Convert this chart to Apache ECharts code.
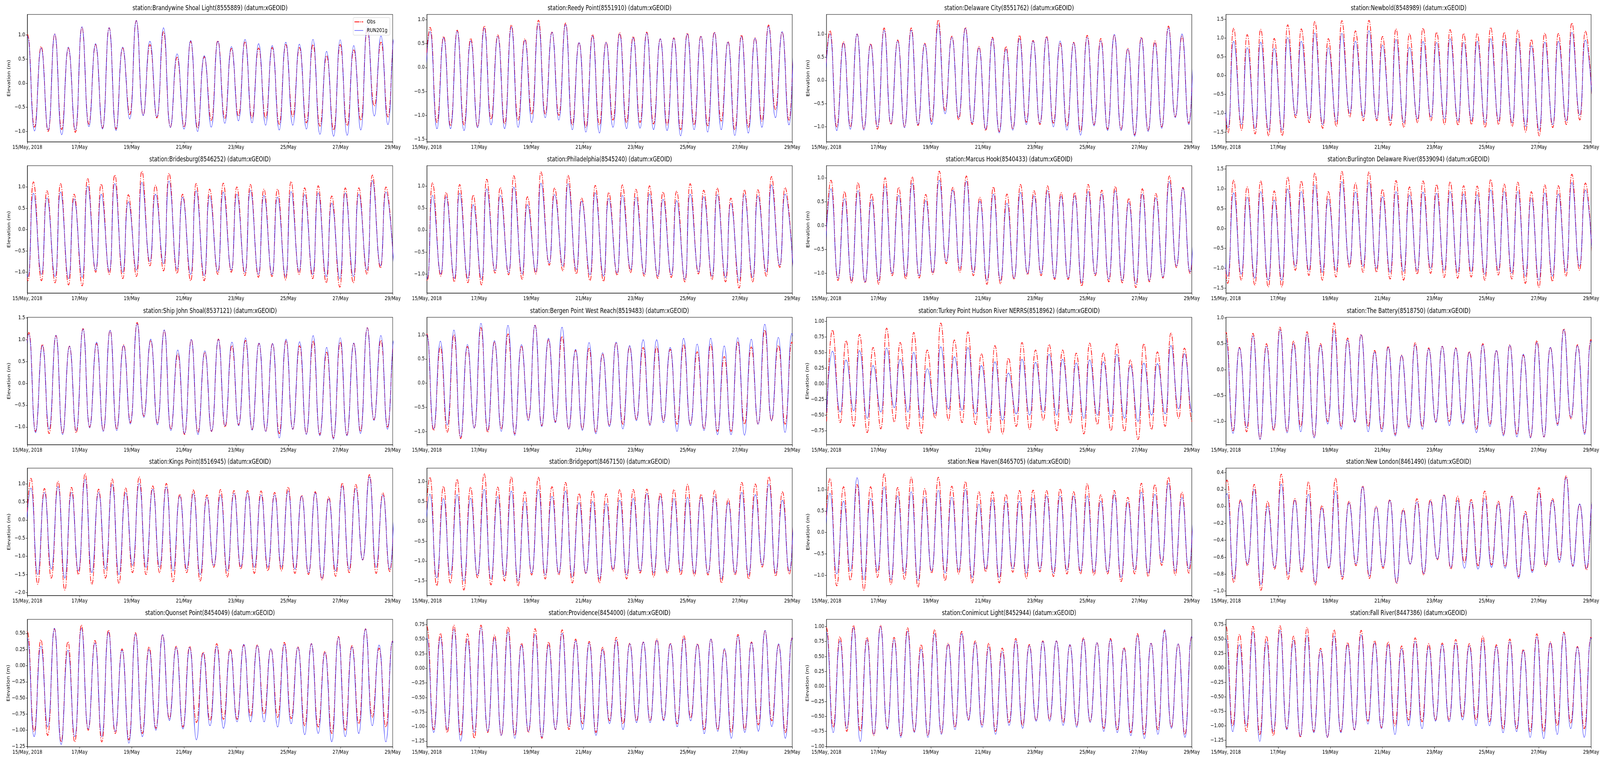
<!DOCTYPE html>
<html><head><meta charset="utf-8">
<script src="https://cdn.jsdelivr.net/npm/echarts@6/dist/echarts.min.js"></script>
<style>html,body{margin:0;padding:0;background:#fff;overflow:hidden}#c{position:absolute;left:0;top:0;width:5150px;height:1950px;transform-origin:0 0}</style>
</head><body><div id="c"></div>
<script>
const stations = [
 'station:Brandywine Shoal Light(8555889) (datum:xGEOID)','station:Reedy Point(8551910) (datum:xGEOID)',
 'station:Delaware City(8551762) (datum:xGEOID)','station:Newbold(8548989) (datum:xGEOID)',
 'station:Bridesburg(8546252) (datum:xGEOID)','station:Philadelphia(8545240) (datum:xGEOID)',
 'station:Marcus Hook(8540433) (datum:xGEOID)','station:Burlington Delaware River(8539094) (datum:xGEOID)',
 'station:Ship John Shoal(8537121) (datum:xGEOID)','station:Bergen Point West Reach(8519483) (datum:xGEOID)',
 'station:Turkey Point Hudson River NERRS(8518962) (datum:xGEOID)','station:The Battery(8518750) (datum:xGEOID)',
 'station:Kings Point(8516945) (datum:xGEOID)','station:Bridgeport(8467150) (datum:xGEOID)',
 'station:New Haven(8465705) (datum:xGEOID)','station:New London(8461490) (datum:xGEOID)',
 'station:Quonset Point(8454049) (datum:xGEOID)','station:Providence(8454000) (datum:xGEOID)',
 'station:Conimicut Light(8452944) (datum:xGEOID)','station:Fall River(8447386) (datum:xGEOID)'];
const seriesNames = ['Obs','RUN201g'];
// x axis: hours since 15/May/2018 00:00
const dayTickHours = [0,48,96,144,192,240,288,336];
const dayTickLabels = ['15/May, 2018','17/May','19/May','21/May','23/May','25/May','27/May','29/May'];
const yMin = [-1.216,-1.555,-1.323,-1.76,-1.49,-1.437,-1.415,-1.625,-1.404,-1.276,-0.973,-1.449,-2.08,-1.867,-1.476,-1.052,-1.256,-1.345,-1.007,-1.363];
const yMax = [1.427,1.11,1.42,1.625,1.50,1.47,1.254,1.585,1.509,1.365,1.0625,1.01,1.43,1.338,1.503,0.451,0.717,0.839,1.12,0.84];
const yTicks = [
 [-1,-0.5,0,0.5,1],[-1.5,-1,-0.5,0,0.5,1],[-1,-0.5,0,0.5,1],[-1.5,-1,-0.5,0,0.5,1,1.5],
 [-1,-0.5,0,0.5,1],[-1,-0.5,0,0.5,1],[-1,-0.5,0,0.5,1],[-1.5,-1,-0.5,0,0.5,1,1.5],
 [-1,-0.5,0,0.5,1,1.5],[-1,-0.5,0,0.5,1],[-0.75,-0.5,-0.25,0,0.25,0.5,0.75,1],[-1,-0.5,0,0.5,1],
 [-2,-1.5,-1,-0.5,0,0.5,1],[-1.5,-1,-0.5,0,0.5,1],[-1,-0.5,0,0.5,1],[-1,-0.8,-0.6,-0.4,-0.2,0,0.2,0.4],
 [-1.25,-1,-0.75,-0.5,-0.25,0,0.25,0.5],[-1.25,-1,-0.75,-0.5,-0.25,0,0.25,0.5,0.75],[-1,-0.75,-0.5,-0.25,0,0.25,0.5,0.75,1],[-1.25,-1,-0.75,-0.5,-0.25,0,0.25,0.5,0.75]];
const yDecimals = [1,1,1,1,1,1,1,1,1,1,2,1,1,1,1,1,2,2,2,2];
// timing of high waters (hours): first high, tidal period, low-to-high duration
const firstHigh = [0.2,3.0,3.3,-5.35,-6.87,-7.27,4.2,-5.35,1.4,0,5.6,0,3.3,2.8,3.3,1.0,0,0,0,0];
const tidePeriod = [12.5,12.45,12.45,12.45,12.47,12.47,12.45,12.45,12.45,12.43,12.45,12.44,12.45,12.47,12.45,12.48,12.44,12.44,12.44,12.44];
const riseHours = [6.1,6.2,6.2,5.2,5.1,4.9,6.0,5.5,6.3,6.2,5.4,5.9,6.2,6.2,6.2,6.2,6.2,6.2,6.2,6.2];
// high-water elevations (m), observed
const obsHigh = [
 [1.01,0.76,1.02,0.73,1.16,0.80,1.15,0.73,1.30,0.80,1.07,0.54,0.87,0.55,0.88,0.72,0.86,0.73,0.74,0.80,0.74,0.80,0.57,0.80,0.69,1.11,0.85,1.00],
 [0.84,0.65,0.78,0.61,0.87,0.68,0.89,0.60,0.99,0.74,0.93,0.52,0.69,0.53,0.73,0.65,0.74,0.60,0.62,0.72,0.66,0.74,0.54,0.68,0.62,0.89,0.74,0.80],
 [1.07,0.83,1.00,0.79,1.13,0.87,1.13,0.80,1.30,0.95,1.14,0.73,0.93,0.73,0.97,0.86,0.95,0.80,0.82,0.97,0.90,0.98,0.69,0.93,0.85,1.17,0.95,1.00],
 [1.20,1.26,1.09,1.23,0.99,1.35,1.24,1.44,0.98,1.46,1.19,1.47,1.04,1.24,1.11,1.26,1.15,1.22,1.12,1.12,1.28,1.15,1.21,0.96,1.13,1.12,1.40,1.18],
 [1.00,1.12,0.91,1.08,0.83,1.20,1.07,1.28,0.82,1.37,1.04,1.32,0.83,1.08,0.95,1.09,1.00,1.06,0.95,0.95,1.13,0.98,1.03,0.79,0.98,0.98,1.28,1.00],
 [1.00,1.08,0.86,1.04,0.80,1.16,0.97,1.24,0.76,1.33,0.96,1.25,0.73,1.02,0.86,1.03,0.93,1.01,0.87,0.89,1.06,0.91,0.96,0.73,0.92,0.92,1.22,0.97],
 [0.95,0.71,0.90,0.67,1.00,0.80,1.02,0.65,1.14,0.80,1.04,0.59,0.81,0.66,0.86,0.73,0.83,0.69,0.69,0.86,0.74,0.82,0.57,0.77,0.67,1.04,0.80,0.85],
 [1.20,1.22,1.05,1.20,0.95,1.30,1.20,1.40,0.93,1.44,1.15,1.43,0.99,1.21,1.05,1.20,1.11,1.18,1.08,1.07,1.24,1.12,1.17,0.93,1.10,1.08,1.37,1.15],
 [1.16,0.89,1.09,0.85,1.25,0.91,1.21,0.88,1.39,0.98,1.21,0.67,1.00,0.71,1.01,0.86,0.98,0.91,0.91,0.97,0.86,0.97,0.71,0.94,0.91,1.27,0.98,1.00],
 [1.02,0.75,1.00,0.76,1.15,0.85,1.02,0.77,1.20,0.90,0.97,0.68,0.72,0.60,0.84,0.75,0.74,0.75,0.70,0.80,0.65,0.80,0.55,0.85,0.75,1.10,0.78,0.85],
 [0.86,0.69,0.79,0.58,0.89,0.66,0.82,0.54,0.97,0.70,0.83,0.48,0.61,0.41,0.66,0.54,0.63,0.54,0.49,0.65,0.49,0.64,0.38,0.64,0.51,0.81,0.57,0.60],
 [0.72,0.43,0.70,0.50,0.82,0.55,0.73,0.50,0.90,0.61,0.68,0.37,0.45,0.28,0.52,0.42,0.45,0.42,0.35,0.50,0.37,0.48,0.28,0.56,0.43,0.79,0.48,0.58],
 [1.15,0.87,1.07,0.90,1.28,0.85,1.13,0.88,1.19,0.94,1.01,0.71,0.83,0.69,0.84,0.81,0.81,0.80,0.76,0.91,0.68,0.78,0.64,1.02,0.98,1.25,0.75,0.80],
 [1.11,0.88,1.06,0.86,1.20,0.86,1.12,0.74,1.11,0.87,0.98,0.70,0.77,0.69,0.80,0.80,0.81,0.71,0.80,0.93,0.68,0.78,0.56,0.98,0.94,1.12,0.74,0.80],
 [1.26,1.07,1.12,1.07,1.37,1.05,1.29,1.02,1.29,1.08,1.19,0.95,0.95,0.89,0.98,0.99,0.98,1.02,0.95,1.14,0.88,0.98,0.82,1.15,1.12,1.29,0.94,1.00],
 [0.31,0.08,0.26,0.06,0.38,0.09,0.29,0.01,0.33,0.06,0.24,0.00,0.08,-0.03,0.09,0.08,0.14,0.12,0.08,0.18,0.06,0.12,-0.06,0.22,0.09,0.36,0.02,0.10],
 [0.53,0.40,0.57,0.37,0.63,0.39,0.55,0.26,0.51,0.29,0.48,0.30,0.30,0.21,0.34,0.26,0.32,0.32,0.26,0.36,0.29,0.34,0.22,0.45,0.31,0.57,0.27,0.38],
 [0.72,0.60,0.74,0.59,0.74,0.57,0.71,0.43,0.68,0.45,0.66,0.50,0.46,0.36,0.53,0.43,0.45,0.50,0.43,0.56,0.42,0.50,0.32,0.58,0.45,0.64,0.40,0.52],
 [0.98,0.83,1.02,0.82,1.02,0.82,0.98,0.70,0.95,0.72,0.92,0.76,0.72,0.64,0.80,0.70,0.76,0.76,0.69,0.81,0.73,0.80,0.65,0.88,0.72,0.93,0.71,0.83],
 [0.72,0.58,0.72,0.55,0.73,0.55,0.70,0.34,0.66,0.44,0.65,0.47,0.45,0.38,0.52,0.42,0.43,0.49,0.42,0.55,0.40,0.50,0.32,0.59,0.45,0.62,0.37,0.53]];
// low-water elevations (m), observed; low water k comes just before high water k
const obsLow = [
 [-0.90,-0.91,-1.00,-0.96,-1.02,-0.85,-0.93,-0.95,-0.65,-0.66,-0.72,-0.91,-0.91,-0.93,-0.77,-0.73,-0.68,-0.72,-0.72,-0.85,-0.69,-0.82,-0.89,-0.97,-0.88,-0.77,-0.47,-0.70,-0.80],
 [-1.10,-1.15,-1.22,-1.20,-1.24,-1.08,-1.18,-1.10,-0.98,-0.97,-1.00,-1.20,-1.25,-1.20,-1.10,-1.15,-1.15,-1.18,-1.20,-1.30,-1.20,-1.22,-1.12,-1.30,-1.25,-1.12,-0.88,-1.10,-1.10],
 [-0.90,-1.00,-1.00,-1.05,-1.05,-0.95,-1.00,-0.97,-0.88,-0.65,-0.85,-0.95,-1.08,-1.10,-1.05,-0.90,-0.95,-0.92,-0.98,-1.10,-0.95,-1.05,-1.05,-1.17,-1.07,-1.00,-0.78,-0.92,-1.00],
 [-1.40,-1.52,-1.45,-1.55,-1.60,-1.60,-1.12,-1.25,-1.40,-1.35,-1.10,-1.20,-1.20,-1.32,-1.38,-1.25,-1.20,-1.30,-1.32,-1.30,-1.38,-1.30,-1.35,-1.50,-1.60,-1.38,-1.30,-1.18,-1.20],
 [-1.00,-1.20,-1.20,-1.25,-1.30,-1.32,-1.00,-1.05,-1.15,-1.10,-0.85,-0.97,-1.03,-1.20,-1.20,-1.05,-1.00,-1.08,-1.12,-1.10,-1.18,-1.05,-1.15,-1.25,-1.35,-1.25,-1.05,-0.90,-1.00],
 [-1.00,-1.15,-1.05,-1.18,-1.20,-1.25,-0.98,-1.02,-1.12,-1.00,-0.80,-0.93,-1.00,-1.15,-1.17,-1.03,-0.97,-1.05,-1.10,-1.08,-1.18,-1.00,-1.13,-1.18,-1.32,-1.18,-1.05,-0.85,-1.00],
 [-1.00,-1.15,-1.20,-1.20,-1.23,-1.05,-1.12,-1.10,-1.02,-0.80,-0.98,-1.05,-1.23,-1.22,-1.13,-1.03,-1.05,-1.13,-1.13,-1.27,-1.05,-1.18,-1.20,-1.30,-1.18,-1.10,-0.88,-1.00,-1.00],
 [-1.30,-1.38,-1.30,-1.42,-1.47,-1.47,-1.05,-1.18,-1.30,-1.22,-0.98,-1.10,-1.10,-1.27,-1.30,-1.15,-1.13,-1.23,-1.25,-1.22,-1.30,-1.17,-1.27,-1.38,-1.48,-1.33,-1.20,-1.05,-1.10],
 [-1.00,-1.10,-1.15,-1.15,-1.13,-1.00,-1.08,-1.05,-0.90,-0.75,-0.92,-1.05,-1.17,-1.12,-1.10,-1.00,-0.95,-1.05,-1.10,-1.15,-1.05,-1.15,-1.17,-1.25,-1.18,-1.10,-0.83,-1.00,-1.00],
 [-0.90,-0.98,-1.02,-1.15,-0.93,-1.02,-0.95,-1.05,-0.75,-0.88,-0.80,-0.95,-0.95,-1.02,-0.88,-0.85,-0.75,-0.85,-0.78,-0.85,-0.85,-0.95,-1.00,-1.00,-0.85,-0.85,-0.78,-0.85,-0.90],
 [-0.60,-0.62,-0.68,-0.78,-0.72,-0.61,-0.73,-0.79,-0.55,-0.58,-0.62,-0.65,-0.79,-0.80,-0.68,-0.73,-0.58,-0.75,-0.63,-0.80,-0.65,-0.75,-0.76,-0.89,-0.73,-0.68,-0.55,-0.60,-0.60],
 [-1.10,-1.18,-1.20,-1.33,-1.18,-1.20,-1.10,-1.30,-1.00,-1.10,-1.00,-1.10,-1.15,-1.25,-1.10,-1.10,-1.00,-1.00,-1.02,-1.15,-1.05,-1.25,-1.25,-1.30,-1.30,-1.05,-0.95,-1.22,-1.10],
 [-1.40,-1.77,-1.60,-1.93,-1.50,-1.77,-1.60,-1.75,-1.45,-1.50,-1.45,-1.70,-1.45,-1.68,-1.30,-1.57,-1.35,-1.47,-1.40,-1.40,-1.47,-1.50,-1.65,-1.55,-1.45,-1.10,-1.47,-1.42,-1.40],
 [-1.40,-1.62,-1.55,-1.73,-1.42,-1.60,-1.50,-1.63,-1.35,-1.45,-1.35,-1.55,-1.32,-1.55,-1.25,-1.45,-1.30,-1.40,-1.30,-1.35,-1.37,-1.35,-1.55,-1.35,-1.45,-1.15,-1.38,-1.33,-1.30],
 [-1.00,-1.25,-1.12,-1.35,-1.05,-1.22,-1.10,-1.28,-0.95,-1.13,-0.97,-1.18,-0.92,-1.18,-0.93,-1.08,-0.92,-1.03,-0.97,-0.97,-1.00,-0.97,-1.15,-0.97,-1.03,-0.77,-1.00,-0.95,-1.00],
 [-0.70,-0.90,-0.70,-0.99,-0.74,-0.86,-0.78,-0.93,-0.73,-0.86,-0.70,-0.85,-0.73,-0.91,-0.68,-0.81,-0.63,-0.74,-0.66,-0.70,-0.69,-0.71,-0.83,-0.76,-0.71,-0.63,-0.70,-0.75,-0.70],
 [-1.00,-1.02,-1.08,-1.18,-1.18,-1.00,-1.18,-1.05,-1.15,-1.05,-0.97,-0.82,-0.95,-0.88,-0.85,-0.83,-0.83,-0.78,-0.75,-0.80,-0.82,-0.93,-0.95,-1.05,-1.00,-0.90,-0.80,-0.95,-0.95],
 [-1.00,-1.05,-1.10,-1.15,-1.20,-1.10,-1.15,-1.15,-1.10,-1.20,-1.05,-1.05,-0.95,-1.10,-0.90,-0.95,-0.90,-0.90,-0.88,-0.95,-0.85,-1.05,-1.05,-1.10,-1.05,-0.97,-0.90,-1.10,-1.00],
 [-0.70,-0.68,-0.75,-0.75,-0.82,-0.70,-0.82,-0.75,-0.82,-0.78,-0.68,-0.55,-0.65,-0.75,-0.60,-0.65,-0.57,-0.55,-0.60,-0.65,-0.58,-0.70,-0.72,-0.77,-0.80,-0.72,-0.68,-0.80,-0.70],
 [-1.00,-1.00,-1.10,-1.15,-1.17,-1.05,-1.20,-1.10,-1.20,-1.10,-1.07,-0.92,-1.03,-1.00,-0.90,-0.93,-0.90,-0.90,-0.85,-0.90,-0.93,-1.05,-1.05,-1.10,-1.10,-1.00,-0.95,-1.05,-1.00]];
// high-water elevations (m), model RUN201g
const modHigh = [
 [0.97,0.73,1.02,0.75,1.17,0.82,1.15,0.75,1.30,0.87,1.15,0.61,0.89,0.57,0.87,0.76,0.91,0.82,0.78,0.85,0.81,0.91,0.66,0.90,0.78,1.19,0.98,1.00],
 [0.75,0.62,0.76,0.56,0.82,0.65,0.85,0.57,0.92,0.74,0.90,0.52,0.66,0.52,0.70,0.62,0.72,0.60,0.61,0.70,0.65,0.73,0.53,0.65,0.61,0.86,0.75,0.80],
 [1.00,0.80,1.00,0.77,1.08,0.85,1.08,0.78,1.20,0.93,1.12,0.70,0.90,0.67,0.90,0.85,0.93,0.85,0.81,0.93,0.85,0.99,0.67,0.91,0.80,1.13,1.00,1.00],
 [0.90,0.91,0.74,0.89,0.72,1.01,0.91,1.13,0.74,1.12,0.91,1.19,0.81,0.96,0.75,0.91,0.88,0.98,0.88,0.91,0.98,0.96,0.98,0.79,0.89,0.91,1.15,0.94],
 [0.85,0.85,0.74,0.88,0.72,1.02,0.83,1.08,0.65,1.11,0.83,1.14,0.76,0.91,0.79,0.88,0.83,0.92,0.80,0.76,0.89,0.82,0.86,0.62,0.86,0.83,1.15,0.88],
 [0.80,0.79,0.76,0.84,0.58,0.94,0.79,0.98,0.58,1.07,0.81,1.06,0.66,0.85,0.72,0.79,0.75,0.82,0.70,0.67,0.82,0.76,0.81,0.61,0.81,0.78,1.03,0.82],
 [0.77,0.56,0.73,0.54,0.82,0.63,0.88,0.52,0.95,0.74,0.93,0.51,0.66,0.47,0.69,0.62,0.73,0.61,0.62,0.71,0.66,0.73,0.48,0.66,0.58,0.92,0.78,0.80],
 [0.90,0.90,0.79,0.93,0.72,1.00,0.93,1.10,0.74,1.18,0.92,1.16,0.80,0.93,0.84,0.92,0.89,0.93,0.87,0.85,0.97,0.93,0.93,0.77,0.90,0.87,1.16,0.97],
 [1.12,0.86,1.10,0.85,1.24,0.94,1.21,0.86,1.36,1.01,1.22,0.76,1.00,0.74,1.00,0.94,1.04,0.92,0.91,1.01,0.95,1.09,0.82,1.04,0.92,1.27,1.09,1.05],
 [1.00,0.87,1.10,0.80,1.24,0.88,1.20,0.80,1.20,0.93,1.16,0.70,0.84,0.63,0.85,0.78,0.90,0.90,0.74,0.93,0.81,0.93,0.77,0.94,0.91,1.22,0.95,1.03],
 [0.52,0.38,0.53,0.29,0.57,0.39,0.50,0.24,0.59,0.43,0.58,0.29,0.35,0.17,0.39,0.34,0.47,0.39,0.33,0.38,0.35,0.47,0.29,0.33,0.32,0.61,0.48,0.45],
 [0.58,0.42,0.65,0.45,0.77,0.50,0.68,0.47,0.75,0.57,0.67,0.34,0.43,0.27,0.48,0.40,0.45,0.41,0.33,0.48,0.37,0.47,0.30,0.52,0.43,0.77,0.46,0.55],
 [0.88,0.76,0.92,0.76,1.12,0.76,0.98,0.75,1.01,0.85,0.91,0.66,0.73,0.62,0.69,0.73,0.75,0.69,0.69,0.80,0.66,0.75,0.58,0.94,0.87,1.19,0.69,0.75],
 [0.68,0.57,0.67,0.58,0.80,0.62,0.76,0.50,0.80,0.63,0.76,0.47,0.50,0.44,0.53,0.57,0.70,0.63,0.57,0.60,0.60,0.63,0.47,0.73,0.67,0.94,0.53,0.60],
 [0.91,0.73,1.28,0.79,1.06,0.85,0.95,0.82,0.98,0.82,1.00,0.66,0.76,0.73,0.73,0.80,0.85,0.85,0.85,0.85,0.73,0.88,0.70,0.94,0.89,1.15,0.82,0.85],
 [0.15,0.06,0.20,0.00,0.26,0.07,0.14,-0.02,0.18,0.04,0.23,-0.01,0.07,-0.05,0.05,0.06,0.13,0.07,0.05,0.09,0.03,0.11,-0.09,0.16,0.07,0.34,0.03,0.10],
 [0.42,0.30,0.58,0.24,0.58,0.35,0.52,0.24,0.49,0.25,0.48,0.28,0.28,0.19,0.30,0.24,0.33,0.31,0.26,0.33,0.28,0.34,0.20,0.44,0.29,0.57,0.32,0.38],
 [0.52,0.53,0.67,0.50,0.70,0.52,0.62,0.40,0.58,0.40,0.60,0.47,0.43,0.32,0.48,0.42,0.45,0.48,0.42,0.51,0.41,0.50,0.34,0.55,0.44,0.65,0.42,0.52],
 [0.90,0.76,0.98,0.78,1.00,0.78,0.92,0.62,0.88,0.70,0.88,0.73,0.66,0.58,0.76,0.68,0.75,0.76,0.70,0.79,0.73,0.78,0.63,0.85,0.72,0.95,0.71,0.83],
 [0.50,0.40,0.62,0.45,0.65,0.48,0.56,0.30,0.55,0.40,0.57,0.43,0.40,0.33,0.46,0.37,0.40,0.43,0.38,0.48,0.37,0.45,0.30,0.54,0.43,0.60,0.36,0.52]];
// low-water elevations (m), model RUN201g
const modLow = [
 [-0.90,-0.99,-0.97,-1.07,-0.97,-0.90,-0.95,-0.98,-0.74,-0.67,-0.70,-0.92,-0.95,-1.00,-0.91,-0.83,-0.78,-0.82,-0.87,-0.97,-0.87,-0.95,-1.06,-1.10,-1.08,-0.97,-0.68,-0.86,-0.90],
 [-1.20,-1.28,-1.28,-1.32,-1.26,-1.20,-1.28,-1.25,-1.15,-1.05,-1.10,-1.30,-1.35,-1.37,-1.25,-1.28,-1.27,-1.30,-1.32,-1.43,-1.30,-1.35,-1.30,-1.42,-1.37,-1.25,-1.05,-1.20,-1.20],
 [-0.90,-1.08,-1.05,-1.07,-1.00,-0.93,-1.02,-0.95,-0.95,-0.72,-0.80,-0.92,-1.05,-1.13,-1.07,-0.95,-0.92,-1.00,-1.07,-1.18,-0.98,-1.08,-1.08,-1.20,-1.10,-1.03,-0.80,-0.95,-1.00],
 [-1.30,-1.38,-1.30,-1.40,-1.45,-1.45,-1.05,-1.15,-1.30,-1.22,-1.00,-1.10,-1.15,-1.20,-1.25,-1.15,-1.10,-1.15,-1.20,-1.20,-1.25,-1.20,-1.25,-1.35,-1.45,-1.30,-1.20,-1.05,-1.10],
 [-0.95,-1.10,-1.05,-1.10,-1.15,-1.12,-0.95,-0.98,-1.00,-0.95,-0.75,-0.80,-0.93,-1.05,-1.08,-0.98,-0.95,-1.00,-1.05,-1.05,-1.10,-0.98,-1.05,-1.10,-1.15,-1.10,-0.95,-0.85,-0.95],
 [-0.95,-1.10,-1.00,-1.10,-1.10,-1.12,-0.92,-0.97,-1.00,-0.95,-0.75,-0.82,-0.90,-1.02,-1.05,-0.98,-0.90,-1.00,-1.05,-1.02,-1.12,-0.95,-1.05,-1.08,-1.15,-1.08,-0.95,-0.80,-0.95],
 [-0.95,-1.10,-1.15,-1.18,-1.15,-1.00,-1.05,-1.05,-0.98,-0.75,-0.90,-0.98,-1.15,-1.15,-1.10,-1.00,-1.00,-1.10,-1.10,-1.20,-1.02,-1.12,-1.15,-1.22,-1.15,-1.08,-0.85,-0.97,-0.95],
 [-1.15,-1.20,-1.15,-1.25,-1.30,-1.30,-0.95,-1.05,-1.10,-1.05,-0.90,-0.95,-1.00,-1.10,-1.08,-1.05,-1.00,-1.05,-1.10,-1.08,-1.15,-1.05,-1.12,-1.20,-1.30,-1.20,-1.07,-0.95,-1.00],
 [-1.00,-1.13,-1.05,-1.17,-1.08,-1.02,-1.10,-1.08,-0.93,-0.78,-0.95,-1.08,-1.15,-1.17,-1.10,-0.97,-0.97,-1.07,-1.10,-1.25,-1.05,-1.17,-1.20,-1.28,-1.20,-1.15,-0.85,-1.05,-1.05],
 [-0.90,-0.95,-0.87,-1.12,-0.93,-0.98,-1.00,-1.08,-0.78,-0.90,-0.82,-0.95,-0.98,-1.05,-0.90,-0.95,-0.78,-0.88,-0.82,-1.00,-0.88,-0.98,-1.07,-1.07,-1.08,-0.85,-0.77,-1.02,-0.90],
 [-0.45,-0.45,-0.43,-0.55,-0.45,-0.38,-0.45,-0.55,-0.48,-0.40,-0.42,-0.48,-0.55,-0.58,-0.48,-0.50,-0.45,-0.50,-0.50,-0.55,-0.50,-0.52,-0.55,-0.60,-0.50,-0.48,-0.40,-0.45,-0.45],
 [-1.10,-1.23,-1.12,-1.35,-1.15,-1.22,-1.20,-1.32,-1.05,-1.15,-1.02,-1.20,-1.20,-1.28,-1.13,-1.15,-1.02,-1.08,-1.05,-1.22,-1.10,-1.28,-1.30,-1.32,-1.30,-1.08,-0.92,-1.25,-1.10],
 [-1.30,-1.50,-1.35,-1.60,-1.40,-1.45,-1.35,-1.50,-1.25,-1.30,-1.30,-1.40,-1.35,-1.50,-1.25,-1.40,-1.28,-1.30,-1.30,-1.30,-1.35,-1.45,-1.60,-1.40,-1.35,-1.10,-1.30,-1.35,-1.30],
 [-1.30,-1.42,-1.35,-1.50,-1.35,-1.45,-1.38,-1.50,-1.30,-1.35,-1.30,-1.40,-1.30,-1.45,-1.20,-1.35,-1.25,-1.30,-1.25,-1.25,-1.30,-1.30,-1.45,-1.30,-1.35,-1.10,-1.30,-1.25,-1.25],
 [-0.90,-0.97,-0.90,-1.10,-0.90,-1.10,-0.95,-1.12,-0.90,-0.95,-0.88,-1.05,-0.85,-1.05,-0.85,-0.95,-0.85,-0.95,-0.88,-0.90,-0.92,-0.92,-1.05,-0.88,-0.95,-0.70,-0.90,-0.85,-0.90],
 [-0.70,-0.85,-0.68,-0.92,-0.72,-0.80,-0.75,-0.90,-0.72,-0.83,-0.68,-0.82,-0.71,-0.90,-0.68,-0.79,-0.62,-0.72,-0.73,-0.74,-0.72,-0.73,-0.85,-0.78,-0.69,-0.66,-0.71,-0.73,-0.70],
 [-1.00,-1.10,-0.95,-1.22,-1.10,-0.98,-1.10,-1.02,-1.20,-1.10,-1.00,-0.85,-0.98,-1.15,-0.93,-0.97,-0.87,-0.87,-0.87,-0.95,-0.90,-1.07,-1.05,-1.18,-1.10,-1.05,-0.93,-1.18,-1.00],
 [-1.00,-1.10,-1.05,-1.25,-1.10,-1.08,-1.15,-1.20,-1.08,-1.18,-1.05,-1.00,-1.05,-1.15,-0.95,-1.05,-0.93,-0.93,-0.90,-1.00,-0.90,-1.12,-1.08,-1.20,-1.10,-1.08,-1.00,-1.20,-1.00],
 [-0.70,-0.77,-0.70,-0.92,-0.80,-0.72,-0.85,-0.77,-0.85,-0.80,-0.72,-0.57,-0.68,-0.80,-0.65,-0.70,-0.58,-0.58,-0.65,-0.68,-0.60,-0.75,-0.77,-0.82,-0.87,-0.80,-0.70,-0.85,-0.75],
 [-1.00,-1.10,-1.00,-1.27,-1.10,-1.07,-1.18,-1.12,-1.20,-1.12,-1.07,-0.97,-1.05,-1.15,-1.00,-1.05,-0.92,-0.93,-0.90,-1.00,-1.00,-1.12,-1.10,-1.20,-1.22,-1.15,-1.05,-1.20,-1.05]];

const FONT = 'DejaVu Sans';
const colLeft = [88, 1374, 2660, 3946];
const rowTop = [37, 424, 812, 1198, 1585];
const GW = 1176, GH = 326;

function extremaSeries(i, hi, lo) {
  const pts = [];
  const n = Math.max(hi.length, lo.length);
  for (let k = 0; k < n; k++) {
    const th = firstHigh[i] + k * tidePeriod[i];
    if (k < lo.length) pts.push([th - riseHours[i], lo[k]]);
    if (k < hi.length) pts.push([th, hi[k]]);
  }
  return pts;
}
function fmtY(v, d) {
  const s = Math.abs(v).toFixed(d);
  return (v < -1e-9 ? '\u2212' : '') + s;
}

const grids = [], xAxes = [], yAxes = [], series = [], graphics = [];
stations.forEach((name, i) => {
  const r = Math.floor(i / 4), c = i % 4;
  grids.push({left: colLeft[c], top: rowTop[r], width: GW, height: GH, show: true,
    borderColor: '#000', borderWidth: 1.2, backgroundColor: 'rgba(0,0,0,0)', containLabel: false});
  xAxes.push({gridIndex: i, type: 'value', min: 0, max: 336, interval: 48,
    axisLine: {show: true, onZero: false, lineStyle: {color: '#000', width: 1.2}},
    axisTick: {show: true, length: 5, lineStyle: {color: '#000', width: 1}},
    axisLabel: {fontFamily: FONT, fontSize: 14, color: '#000', margin: 7, showMinLabel: true, showMaxLabel: true,
      formatter: v => { const j = dayTickHours.indexOf(Math.round(v)); return j >= 0 ? dayTickLabels[j] : ''; }},
    splitLine: {show: false}});
  const dec = yDecimals[i];
  yAxes.push({gridIndex: i, type: 'value', min: yMin[i], max: yMax[i],
    name: (c === 0 || c === 2) ? 'Elevation (m)' : '', nameLocation: 'middle', nameGap: 52, nameRotate: 90,
    nameTextStyle: {fontFamily: FONT, fontSize: 14, color: '#000'},
    axisLine: {show: true, onZero: false, lineStyle: {color: '#000', width: 1.2}},
    axisTick: {show: true, length: 5, customValues: yTicks[i], lineStyle: {color: '#000', width: 1}},
    axisLabel: {fontFamily: FONT, fontSize: 14, color: '#000', margin: 7, customValues: yTicks[i],
      formatter: v => fmtY(v, dec)},
    splitLine: {show: false}});
  series.push({type: 'line', name: seriesNames[0], xAxisIndex: i, yAxisIndex: i,
    data: extremaSeries(i, obsHigh[i], obsLow[i]), symbol: 'none', showSymbol: false, smooth: 0.5, clip: true,
    lineStyle: {color: '#ff0000', width: 2, type: [13, 3, 2.5, 3]}, itemStyle: {color: '#ff0000'}, z: 2});
  series.push({type: 'line', name: seriesNames[1], xAxisIndex: i, yAxisIndex: i,
    data: extremaSeries(i, modHigh[i], modLow[i]), symbol: 'none', showSymbol: false, smooth: 0.5, clip: true,
    lineStyle: {color: '#0000ff', width: 1.2}, itemStyle: {color: '#0000ff'}, z: 3});
  graphics.push({type: 'text', x: colLeft[c] + GW / 2, y: rowTop[r] - 7, z: 10,
    style: {text: name, fontFamily: FONT, fontSize: 17, fill: '#000', textAlign: 'center', textVerticalAlign: 'bottom'}});
});

// fit the 5150x1950 drawing into whatever viewport the browser really gives
const el = document.getElementById('c');
const VW = window.innerWidth || 5150, VH = window.innerHeight || 1950;
el.style.transform = 'scale(' + (VW / 5150) + ',' + (VH / 1950) + ')';
const chart = echarts.init(el, null, {renderer: 'canvas', width: 5150, height: 1950});
chart.setOption({
  backgroundColor: '#fff', animation: false,
  grid: grids, xAxis: xAxes, yAxis: yAxes, series: series, graphic: graphics,
  legend: {show: true, orient: 'vertical', left: 1137, top: 45, z: 20,
    data: [
      {name: 'Obs', icon: 'path://M0,4H16V6H0Z M18,4H21V6H18Z M23,4H28V6H23Z M0,0H0.01V0.01H0Z M35,10H35.01V10.01H35Z'},
      {name: 'RUN201g', icon: 'path://M0,4.4H28V5.6H0Z M0,0H0.01V0.01H0Z M35,10H35.01V10.01H35Z'}],
    itemWidth: 35, itemHeight: 10, itemGap: 8,
    textStyle: {fontFamily: FONT, fontSize: 14, color: '#000'}, backgroundColor: 'rgba(255,255,255,0.8)', borderColor: '#ccc',
    borderWidth: 1, borderRadius: 3, padding: [4, 8, 5, 4]}
});
</script></body></html>
